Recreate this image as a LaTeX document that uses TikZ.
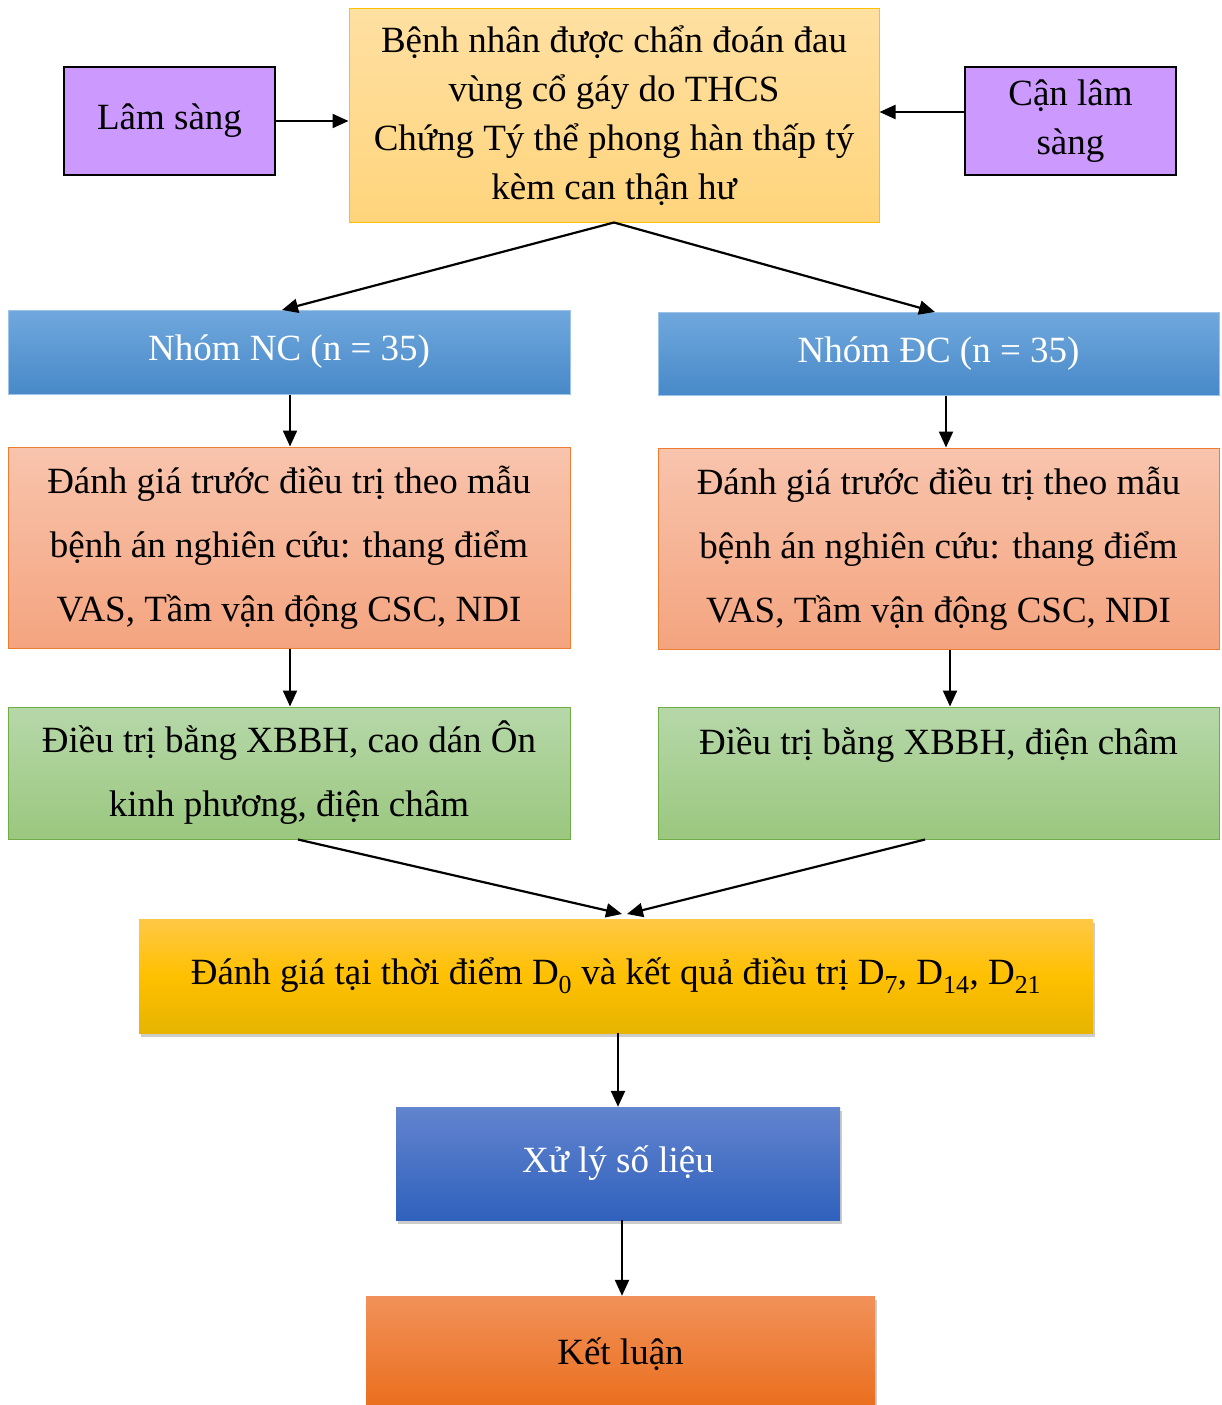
\documentclass[tikz,border=0pt]{standalone}
\usepackage{fontspec}
\setmainfont{Liberation Serif}
\usetikzlibrary{arrows.meta,shadows}
\definecolor{purp}{HTML}{CC99FF}
\definecolor{topA}{HTML}{FFE0A2}
\definecolor{topB}{HTML}{FFD47C}
\definecolor{topE}{HTML}{FFC000}
\definecolor{blA}{HTML}{70A8DD}
\definecolor{blB}{HTML}{4889C9}
\definecolor{blE}{HTML}{9DC3E6}
\definecolor{orA}{HTML}{F8C4AD}
\definecolor{orB}{HTML}{F4A47F}
\definecolor{orE}{HTML}{ED7D31}
\definecolor{grA}{HTML}{B6D8A9}
\definecolor{grB}{HTML}{9BC77F}
\definecolor{grE}{HTML}{70AD47}
\definecolor{yeA}{HTML}{FFC846}
\definecolor{yeM}{HTML}{FFC000}
\definecolor{yeB}{HTML}{E6B400}
\definecolor{xlA}{HTML}{6384CE}
\definecolor{xlB}{HTML}{2F61BD}
\definecolor{klA}{HTML}{F19159}
\definecolor{klB}{HTML}{EA6D1B}
\tikzset{
  box/.style={rectangle, inner sep=0pt, align=center, font=\fontsize{37}{49}\selectfont},
  sidebox/.style={box, fill=purp, draw=black, line width=2pt},
  topbox/.style={box, top color=topA, bottom color=topB, draw=topE, line width=1pt},
  grpbox/.style={box, top color=blA, bottom color=blB, draw=blE, line width=1pt, text=white},
  evbox/.style={box, top color=orA, bottom color=orB, draw=orE, line width=1pt, font=\fontsize{37}{64}\selectfont},
  trbox/.style={box, top color=grA, bottom color=grB, draw=grE, line width=1pt, font=\fontsize{37}{64}\selectfont},
  shbox/.style={box, drop shadow={shadow xshift=2pt, shadow yshift=-4pt, opacity=0.4}},
  arr/.style={-{Triangle[length=16pt,width=14pt]}, line width=2.2pt},
}
\begin{document}
\begin{tikzpicture}[x=1pt,y=-1pt]
\useasboundingbox (0,0) rectangle (1221,1405);
% side boxes
\node[sidebox, minimum width=211pt, minimum height=108pt] (ls) at (169.5,121) {Lâm sàng};
\node[sidebox, minimum width=211pt, minimum height=108pt] (cls) at (1070.5,121) {Cận lâm\\sàng};
% top
\node[topbox, minimum width=530pt, minimum height=213pt] (top) at (614,115.5)
  {\raisebox{-3pt}{\parbox{520pt}{\centering Bệnh nhân được chẩn đoán đau\\vùng cổ gáy do THCS\\Chứng Tý thể phong hàn thấp tý\\kèm can thận hư}}};
% groups
\node[grpbox, minimum width=562pt, minimum height=84pt] (nc) at (289,352) {\raisebox{8pt}{Nhóm NC (n = 35)}};
\node[grpbox, minimum width=561pt, minimum height=83pt] (dc) at (938.5,353.5) {\raisebox{8pt}{Nhóm ĐC (n = 35)}};
% evaluation
\node[evbox, minimum width=562pt, minimum height=201pt] (evl) at (289,547.5)
  {Đánh giá trước điều trị theo mẫu\\bệnh án nghiên cứu: thang điểm\\VAS, Tầm vận động CSC, NDI};
\node[evbox, minimum width=561pt, minimum height=201pt] (evr) at (938.5,548.5)
  {Đánh giá trước điều trị theo mẫu\\bệnh án nghiên cứu: thang điểm\\VAS, Tầm vận động CSC, NDI};
% treatment
\node[trbox, minimum width=562pt, minimum height=132pt] (trl) at (289,773)
  {Điều trị bằng XBBH, cao dán Ôn\\kinh phương, điện châm};
\node[trbox, minimum width=561pt, minimum height=132pt] (trr) at (938.5,773)
  {Điều trị bằng XBBH, điện châm\\\mbox{}};
% assessment
\node[shbox, top color=yeA, bottom color=yeB, middle color=yeM, minimum width=954pt, minimum height=114pt] (as) at (616,976)
  {\raisebox{-6pt}{Đánh giá tại thời điểm D\textsubscript{0} và kết quả điều trị D\textsubscript{7}, D\textsubscript{14}, D\textsubscript{21}}};
\node[shbox, top color=xlA, bottom color=xlB, text=white, minimum width=444pt, minimum height=113pt] (xl) at (618,1163.5) {Xử lý số liệu};
\node[shbox, top color=klA, bottom color=klB, minimum width=509pt, minimum height=116pt] (kl) at (620.5,1354) {Kết luận};
% connectors
\draw[arr] (ls.east) -- (top.west |- ls.east);
\draw[arr] (cls.west |- 0,112) -- (top.east |- 0,112);
\draw[arr] (top.south) -- (282,310);
\draw[arr] (top.south) -- (935,312);
\draw[arr] (nc.south -| 290,0) -- (evl.north -| 290,0);
\draw[arr] (dc.south -| 946,0) -- (evr.north -| 946,0);
\draw[arr] (evl.south -| 290,0) -- (trl.north -| 290,0);
\draw[arr] (evr.south -| 950,0) -- (trr.north -| 950,0);
\draw[arr] (trl.south -| 298,0) -- (622,914);
\draw[arr] (trr.south -| 925,0) -- (627,914);
\draw[arr] (as.south -| 618,0) -- (xl.north -| 618,0);
\draw[arr] (xl.south -| 622,0) -- (kl.north -| 622,0);
\end{tikzpicture}
\end{document}
